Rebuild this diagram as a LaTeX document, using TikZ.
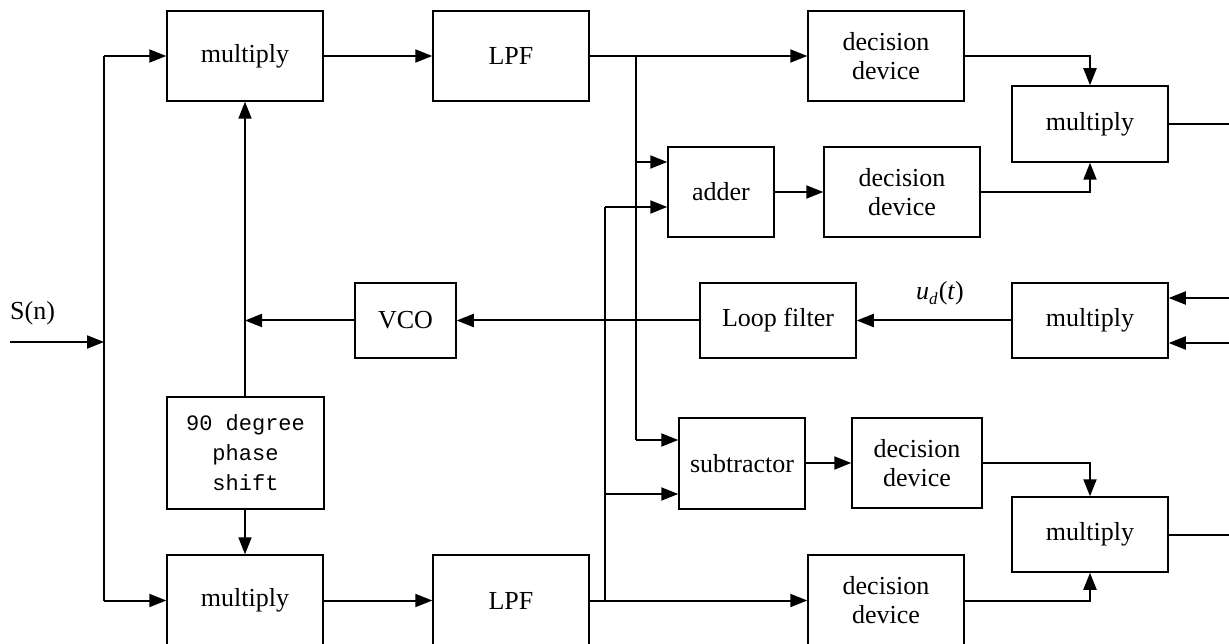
\documentclass[tikz,border=0pt]{standalone}
\usepackage{fontspec}
\setmainfont{Liberation Serif}
\newfontfamily\monofont{Liberation Mono}
\usetikzlibrary{arrows.meta}
\tikzset{
  blk/.style={draw, line width=1.5pt, inner sep=0pt, align=center,
    font=\fontsize{26}{29}\selectfont, minimum width=156pt, minimum height=90pt},
  conn/.style={line width=2pt},
  arr/.style={conn, -{Triangle[length=17pt,width=13pt]}},
  lbl/.style={inner sep=0pt, font=\fontsize{26}{29}\selectfont}
}
\begin{document}
\begin{tikzpicture}[x=1pt,y=-1pt]
\clip (0,0) rectangle (1229,644);
\useasboundingbox (0,0) rectangle (1229,644);
% top path
\node[blk] (m1) at (245,56) {multiply};
\node[blk] (l1) at (511,56) {LPF};
\node[blk] (d1) at (886,56) {decision\\device};
\node[blk, minimum height=76pt] (mr1) at (1090,124) {multiply};
\node[blk, minimum width=106pt] (add) at (721,192) {adder};
\node[blk] (d2) at (902,192) {decision\\device};
% loop row
\node[blk, minimum width=101pt, minimum height=75pt] (vco) at (405.5,320.5) {VCO};
\node[blk, minimum height=75pt] (lf) at (778,320.5) {Loop filter};
\node[blk, minimum height=75pt] (mr2) at (1090,320.5) {multiply};
\node[lbl] (ud) at (940,293) {\textit{u}\raisebox{-0.45ex}{\fontsize{17}{17}\selectfont\textit{d}}\kern1pt(\textit{t})};
% phase shift
\node[blk, minimum width=157pt, minimum height=112pt, font=\fontsize{22}{30}\selectfont\monofont] (ps) at (245.5,453) {90 degree\\phase\\shift};
% lower path
\node[blk, minimum height=91pt] (m2) at (245,600.5) {multiply};
\node[blk, minimum height=91pt] (l2) at (511,600.5) {LPF};
\node[blk, minimum width=126pt, minimum height=91pt] (sub) at (742,463.5) {subtractor};
\node[blk, minimum width=130pt] (d3) at (917,463) {decision\\device};
\node[blk, minimum height=75pt] (mr3) at (1090,534.5) {multiply};
\node[blk, minimum height=91pt] (d4) at (886,600.5) {decision\\device};
% input
\node[lbl, anchor=west] (sn) at (10,313) {S(n)};
\coordinate (in) at (10,342);
\coordinate (bus) at (104,342);
\draw[arr] (in) -- (bus);
\coordinate (bt) at (104,56);
\coordinate (bb) at (104,600.5);
\draw[conn] (bt) -- (bb);
\draw[arr] (bt) -- (m1.west);
\draw[arr] (bb) -- (m2.west);
% forward chain
\draw[arr] (m1) -- (l1);
\draw[arr] (m2) -- (l2);
\draw[arr] (l1.east) -- (d1.west);
\draw[arr] (l2.east |- m2) -- (d4.west);
% taps from upper LPF (x=636)
\coordinate (ja) at (636,56);
\coordinate (jb) at (636,440);
\draw[conn] (ja) -- (jb);
\draw[arr] (636,162) -- (add.west |- 0,162);
\draw[arr] (jb) -- (sub.west |- jb);
% taps from lower LPF (x=605)
\coordinate (ka) at (605,600.5);
\coordinate (kb) at (605,207);
\draw[conn] (ka) -- (kb);
\draw[arr] (kb) -- (add.west |- kb);
\draw[arr] (605,494) -- (sub.west |- 0,494);
% adder / subtractor to decisions
\draw[arr] (add) -- (d2);
\draw[arr] (sub.east |- d3) -- (d3.west);
% decisions to right multipliers
\draw[arr] (d1.east) -| (mr1.north);
\draw[arr] (d2.east) -| (mr1.south);
\draw[arr] (d3.east) -| (mr3.north);
\draw[arr] (d4.east) -| (mr3.south);
% outputs / inputs at right edge
\coordinate (o1) at (1229,124);
\coordinate (o3) at (1229,534.5);
\draw[conn] (mr1.east) -- (o1);
\draw[conn] (mr3.east) -- (o3);
\coordinate (i1) at (1229,298);
\coordinate (i2) at (1229,343);
\draw[arr] (i1) -- (mr2.east |- i1);
\draw[arr] (i2) -- (mr2.east |- i2);
% loop
\draw[arr] (mr2) -- (lf);
\draw[arr] (lf) -- (vco);
\coordinate (vj) at (245,320.5);
\draw[arr] (vco.west) -- (vj);
\draw[arr] (ps.north -| m1) -- (m1.south);
\draw[arr] (ps.south -| m2) -- (m2.north);
\end{tikzpicture}
\end{document}
